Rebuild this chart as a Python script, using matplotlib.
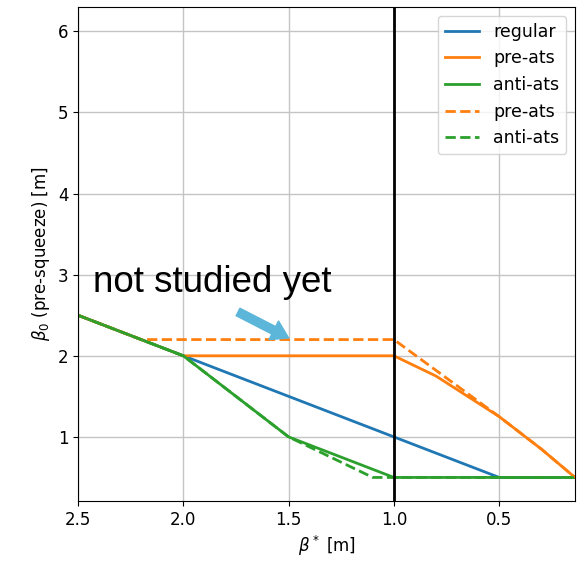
import numpy as np
import matplotlib.pyplot as plt

# 数据 (beta* [m], beta0 [m])
x_regular = [2.5, 2.0, 1.0, 0.5, 0.14]
y_regular = [2.5, 2.0, 1.0, 0.5, 0.5]

x_pre = [2.5, 2.0, 1.0, 0.8, 0.5, 0.3, 0.14]
y_pre = [2.5, 2.0, 2.0, 1.75, 1.25, 0.85, 0.5]

x_anti = [2.5, 2.0, 1.5, 1.0, 0.14]
y_anti = [2.5, 2.0, 1.0, 0.5, 0.5]

x_pre_d = [2.5, 2.2, 1.0, 0.5, 0.3, 0.14]
y_pre_d = [2.5, 2.2, 2.2, 1.25, 0.85, 0.5]

x_anti_d = [2.5, 2.0, 1.5, 1.1, 0.14]
y_anti_d = [2.5, 2.0, 1.0, 0.5, 0.5]

plt.rcParams['font.size'] = 12

fig = plt.figure(figsize=(5.82, 5.61), dpi=100)
ax = fig.add_axes([0.134, 0.107, 0.854, 0.8805])

ax.plot(x_regular, y_regular, color='C0', lw=2, label='regular')
ax.plot(x_pre, y_pre, color='C1', lw=2, label='pre-ats')
ax.plot(x_anti, y_anti, color='C2', lw=2, label='anti-ats')
ax.plot(x_pre_d, y_pre_d, color='C1', lw=2, ls='--', label='pre-ats')
ax.plot(x_anti_d, y_anti_d, color='C2', lw=2, ls='--', label='anti-ats')

ax.axvline(1.0, color='black', lw=2)

ax.set_xlim(2.5, 0.14)
ax.set_ylim(0.21, 6.3)
ax.set_xticks([2.5, 2.0, 1.5, 1.0, 0.5])
ax.set_yticks([1, 2, 3, 4, 5, 6])
ax.grid(True, color='#c4c4c4', lw=1)
ax.set_xlabel(r'$\beta^*$ [m]')
ax.set_ylabel(r'$\beta_0$ (pre-squeeze) [m]')
ax.legend(loc='upper right', fontsize=12.5)

# 标注
ax.text(2.43, 2.79, 'not studied yet', family='Liberation Sans', fontsize=26.5,
        ha='left', va='baseline')
ax.annotate('', xy=(1.5, 2.22), xytext=(1.74, 2.54),
            arrowprops=dict(facecolor='#5bb6d9', edgecolor='#5bb6d9',
                            width=6, headwidth=15, headlength=12))

fig.savefig('out.png', dpi=100)
